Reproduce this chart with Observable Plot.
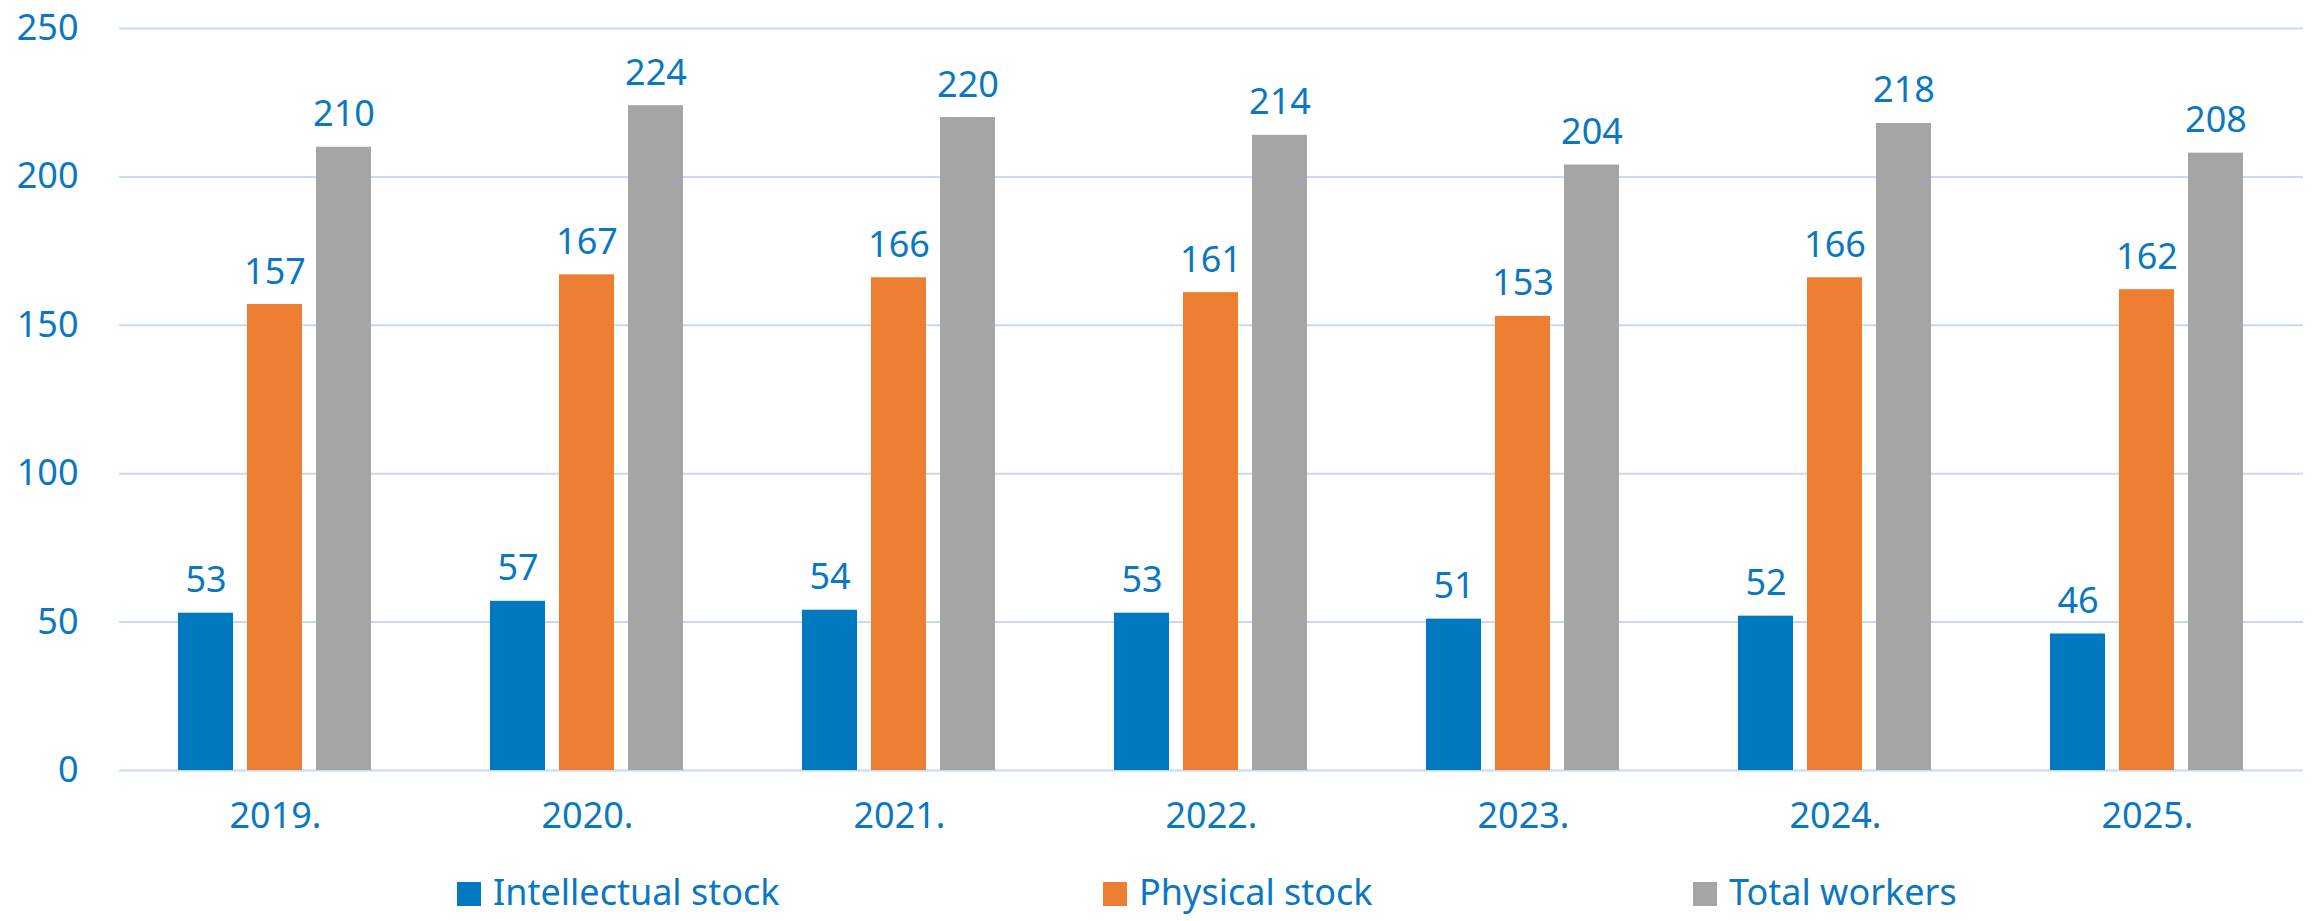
<!DOCTYPE html>
<html>
<head>
<meta charset="utf-8">
<script src="https://cdn.jsdelivr.net/npm/d3@7"></script>
<script src="https://cdn.jsdelivr.net/npm/@observablehq/plot@0.6"></script>
<style>
  html, body { margin: 0; padding: 0; background: #fff; }
  #chart { width: 2313px; }
  #legend { position: relative; width: 2313px; height: 61px; font-family: "Noto Sans", sans-serif; font-size: 36px; color: #0B77C2; }
  .item { position: absolute; top: 3px; height: 61px; display: flex; align-items: center; }
  .sw { width: 24px; height: 24px; margin-right: 12px; margin-top: 4px; }
</style>
</head>
<body>
<div id="chart"></div>
<div id="legend"></div>
<script>
const years = ["2019.", "2020.", "2021.", "2022.", "2023.", "2024.", "2025."];
const seriesNames = ["Intellectual stock", "Physical stock", "Total workers"];
const intellectual = [53, 57, 54, 53, 51, 52, 46];
const physical = [157, 167, 166, 161, 153, 166, 162];
const total = [210, 224, 220, 214, 204, 218, 208];
const colors = ["#0079C1", "#ED7D31", "#A5A5A5"];
const yTicks = [0, 50, 100, 150, 200, 250];
const legendLeft = [457, 1103, 1693];

const seriesValues = [intellectual, physical, total];
const data = [];
years.forEach((yr, i) => {
  seriesNames.forEach((s, j) => {
    data.push({year: yr, series: s, value: seriesValues[j][i]});
  });
});

const textColor = "#0B77C2";

const chart = Plot.plot({
  width: 2313,
  height: 858,
  marginTop: 28,
  marginBottom: 88,
  marginLeft: 118,
  marginRight: 9,
  style: {fontFamily: "'Noto Sans', sans-serif", fontSize: "36px", color: textColor, background: "#fff"},
  fx: {domain: years, padding: 0, label: null},
  x: {domain: seriesNames, paddingInner: 0.2, paddingOuter: 0.86, axis: null},
  y: {domain: [0, 250], label: null},
  color: {domain: seriesNames, range: colors},
  marks: [
    Plot.gridY(yTicks, {stroke: "#C6D9F6", strokeOpacity: 1, strokeWidth: 2}),
    Plot.axisY(yTicks, {tickSize: 0, tickPadding: 41, label: null, fontSize: 36}),
    Plot.axisFx({anchor: "bottom", tickSize: 0, tickPadding: 32, label: null, fontSize: 36}),
    Plot.barY(data, {fx: "year", x: "series", y: "value", fill: "series"}),
    Plot.text(data, {fx: "year", x: "series", y: "value", text: d => String(d.value), lineAnchor: "bottom", dy: -21, fill: textColor, fontSize: 36})
  ]
});
document.getElementById("chart").appendChild(chart);

const legend = document.getElementById("legend");
seriesNames.forEach((s, j) => {
  const item = document.createElement("div");
  item.className = "item";
  item.style.left = legendLeft[j] + "px";
  const sw = document.createElement("div");
  sw.className = "sw";
  sw.style.background = colors[j];
  const label = document.createElement("span");
  label.textContent = s;
  item.appendChild(sw);
  item.appendChild(label);
  legend.appendChild(item);
});
</script>
</body>
</html>
